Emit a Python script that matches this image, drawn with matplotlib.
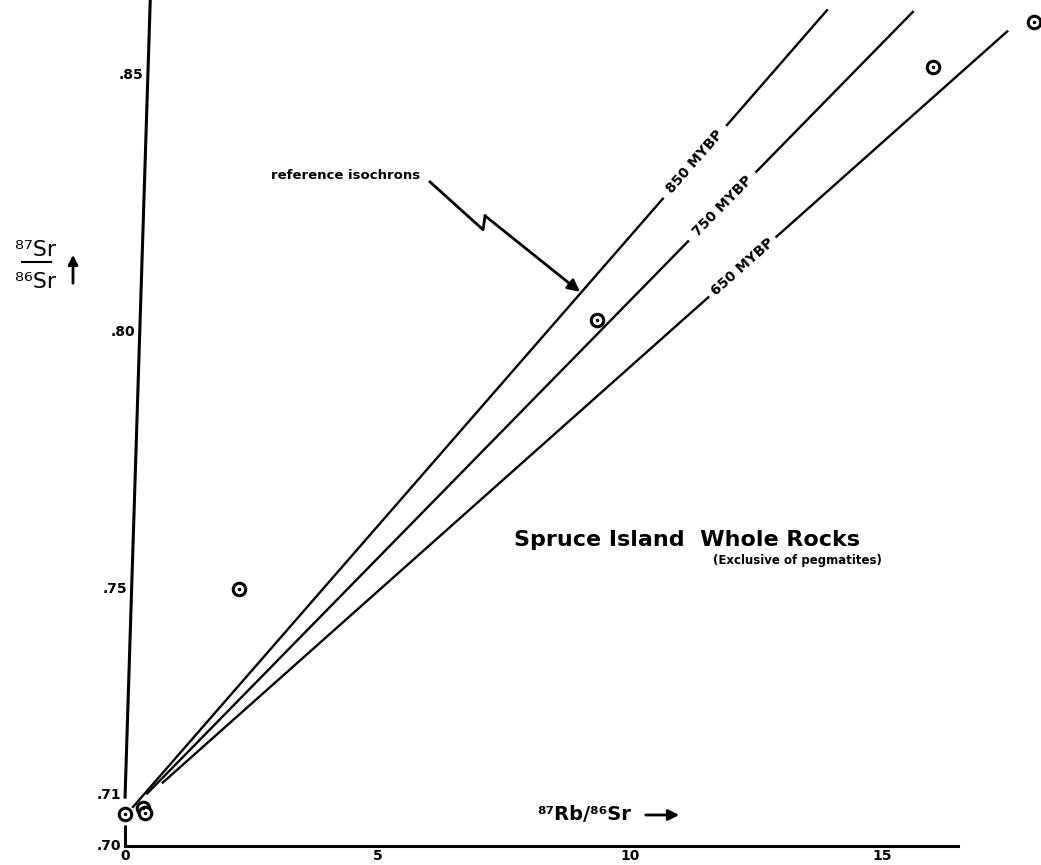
import numpy as np
import matplotlib
matplotlib.use('Agg')
import matplotlib.pyplot as plt

W, H = 1041, 865

# whole rock samples: 87Rb/86Sr and 87Sr/86Sr
rb_sr = [0.0, 0.35, 0.40, 2.25, 9.35, 16.0, 18.0]
sr_sr = [0.7063, 0.7074, 0.7064, 0.7500, 0.8023, 0.8516, 0.8603]

# reference isochrons
iso_labels = ['850 MYBP', '750 MYBP', '650 MYBP']
iso_start = [0.16, 0.44, 0.75]
iso_end = [13.9, 15.6, 17.47]
iso_slope = [0.01128, 0.01003, 0.00874]
iso_gap = [(10.65, 11.92), (11.15, 12.5), (11.55, 12.9)]
sr_initial = 0.7058

xticks = [0, 5, 10, 15]
xtick_labels = ['0', '5', '10', '15']
yticks = [0.70, 0.71, 0.75, 0.80, 0.85]
ytick_labels = ['.70', '.71', '.75', '.80', '.85']

# squiggly pointer for "reference isochrons"
ptr_x = [6.04, 7.09, 7.13, 9.01]
ptr_y = [0.8292, 0.8199, 0.8226, 0.8078]

px_x = 50.5    # pixels per unit of Rb/Sr
px_y = 5140.0  # pixels per unit of Sr/Sr

fig = plt.figure(figsize=(W / 100, H / 100), dpi=100)
ax = fig.add_axes([0, 0, 1, 1])
ax.set_xlim(-125 / px_x, (W - 125) / px_x)
ax.set_ylim(0.70 - (H - 846) / px_y, 0.70 + 846 / px_y)
ytop = ax.get_ylim()[1]

# hand drawn y axis leans a little to the right
y_axis_bot = 0.7092
lean = 0.5
def axis_x(y):
    return max(0.0, lean * (y - y_axis_bot) / (ytop - y_axis_bot))

for s in ['top', 'right', 'left']:
    ax.spines[s].set_visible(False)
ax.spines['bottom'].set_position(('data', 0.70))
ax.spines['bottom'].set_bounds(0, 16.5)
ax.spines['bottom'].set_linewidth(2.2)
ax.plot([0, lean], [y_axis_bot, ytop], color='k', lw=2.2, solid_capstyle='butt')
ax.plot([0, 0], [0.70, 0.7041], color='k', lw=2.2, solid_capstyle='butt')

ax.set_xticks(xticks)
ax.set_xticklabels(xtick_labels, fontsize=10, fontweight='bold')
ax.set_yticks([])
ax.tick_params(length=0, pad=2)
for v, lab in zip(yticks, ytick_labels):
    ax.annotate(lab, xy=(axis_x(v), v), xytext=(-3, 0), textcoords='offset points',
                ha='right', va='center', fontsize=10, fontweight='bold')

# isochrons with gaps for labels
for lab, x0, x1, s, g in zip(iso_labels, iso_start, iso_end, iso_slope, iso_gap):
    for a, b in [(x0, g[0]), (g[1], x1)]:
        xs = np.array([a, b])
        ax.plot(xs, sr_initial + s * xs, color='k', lw=1.7)
    xm = (g[0] + g[1]) / 2
    p1 = ax.transData.transform((g[0], sr_initial + s * g[0]))
    p2 = ax.transData.transform((g[1], sr_initial + s * g[1]))
    ang = np.degrees(np.arctan2(p2[1] - p1[1], p2[0] - p1[0]))
    ax.text(xm, sr_initial + s * xm, lab, rotation=ang, rotation_mode='anchor',
            ha='center', va='center', fontsize=10, fontweight='bold')

# sample points: open circles with a dot
ax.plot(rb_sr, sr_sr, 'o', ms=9, mfc='white', mec='k', mew=2.2, zorder=5)
ax.plot(rb_sr, sr_sr, '.', ms=3, color='k', zorder=6)

# pointer
ax.plot(ptr_x[:3], ptr_y[:3], color='k', lw=2)
ax.annotate('', xy=(ptr_x[3], ptr_y[3]), xytext=(ptr_x[2], ptr_y[2]),
            arrowprops=dict(arrowstyle='-|>', color='k', lw=2, mutation_scale=18,
                            shrinkA=0, shrinkB=0))
ax.text(ptr_x[0] - 0.2, 0.8305, 'reference isochrons', ha='right', va='center',
        fontsize=9.5, fontweight='bold')

# title
ax.text(7.7, 0.7595, 'Spruce Island  Whole Rocks', ha='left', va='center',
        fontsize=16, fontweight='bold')
ax.text(11.65, 0.7555, '(Exclusive of pegmatites)', ha='left', va='center',
        fontsize=8.5, fontweight='bold')

# x label
fig.text(537 / W, 1 - 815 / H, '⁸⁷Rb/⁸⁶Sr', ha='left', va='center',
         fontsize=14, fontweight='bold')
fig.patches.append(matplotlib.patches.FancyArrowPatch(
    (643 / W, 1 - 815 / H), (682 / W, 1 - 815 / H), transform=fig.transFigure,
    arrowstyle='-|>', mutation_scale=16, color='k', lw=2))

# y label
fig.text(36 / W, 1 - 250 / H, '⁸⁷Sr', ha='center', va='center', fontsize=16)
fig.text(36 / W, 1 - 282 / H, '⁸⁶Sr', ha='center', va='center', fontsize=16)
fig.lines.append(matplotlib.lines.Line2D([22 / W, 51 / W], [1 - 262 / H, 1 - 262 / H],
                                         transform=fig.transFigure, color='k', lw=1.5))
fig.patches.append(matplotlib.patches.FancyArrowPatch(
    (73 / W, 1 - 286 / H), (73 / W, 1 - 252 / H), transform=fig.transFigure,
    arrowstyle='-|>', mutation_scale=14, color='k', lw=2))

fig.savefig('out.png', dpi=100)
